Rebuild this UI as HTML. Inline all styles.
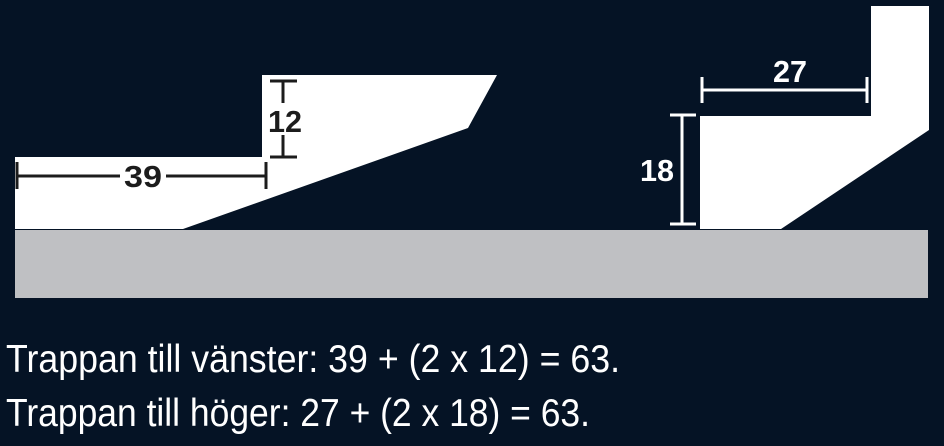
<!DOCTYPE html>
<html><head><style>
html,body{margin:0;padding:0;background:#051325;}
svg{display:block}
</style></head><body>
<svg width="944" height="446" viewBox="0 0 944 446" xmlns="http://www.w3.org/2000/svg">
<rect width="944" height="446" fill="#051325"/>
<rect x="15" y="230" width="913" height="68" fill="#bfc0c3"/>
<polygon points="15,157 262,157 262,75 497,75 468,128 183,229 15,229" fill="#ffffff"/>
<polygon points="871,6 929,6 929,130 781,229 700,229 700,116 871,116" fill="#ffffff"/>
<g stroke="#1c1c1c" stroke-width="3" fill="none">
<line x1="17" y1="176" x2="120" y2="176"/><line x1="166" y1="176" x2="266" y2="176"/>
<line x1="17" y1="162" x2="17" y2="189"/><line x1="266" y1="162" x2="266" y2="189"/>
<line x1="283" y1="81" x2="283" y2="103"/><line x1="283" y1="135" x2="283" y2="157"/>
<line x1="270" y1="81" x2="297" y2="81"/><line x1="270" y1="157" x2="297" y2="157"/>
</g>
<g stroke="#ffffff" stroke-width="3" fill="none">
<line x1="702" y1="90" x2="867" y2="90"/>
<line x1="702" y1="77" x2="702" y2="103"/><line x1="867" y1="77" x2="867" y2="103"/>
<line x1="682" y1="115" x2="682" y2="224"/>
<line x1="670" y1="115" x2="696" y2="115"/><line x1="670" y1="224" x2="696" y2="224"/>
</g>
<g font-family="Liberation Sans, sans-serif" font-weight="bold" font-size="31" text-anchor="middle">
<text x="143" y="187" fill="#1c1c1c" textLength="38" lengthAdjust="spacingAndGlyphs">39</text>
<text x="285" y="132" fill="#1c1c1c" textLength="34" lengthAdjust="spacingAndGlyphs">12</text>
<text x="790" y="82" fill="#ffffff" textLength="34" lengthAdjust="spacingAndGlyphs">27</text>
<text x="657" y="181" fill="#ffffff" textLength="34" lengthAdjust="spacingAndGlyphs">18</text>
</g>
<g font-family="Liberation Sans, sans-serif" font-size="39" fill="#ffffff">
<text x="6" y="372" textLength="614" lengthAdjust="spacingAndGlyphs">Trappan till vänster: 39 + (2 x 12) = 63.</text>
<text x="6" y="426" textLength="584" lengthAdjust="spacingAndGlyphs">Trappan till höger: 27 + (2 x 18) = 63.</text>
</g>
</svg>
</body></html>
